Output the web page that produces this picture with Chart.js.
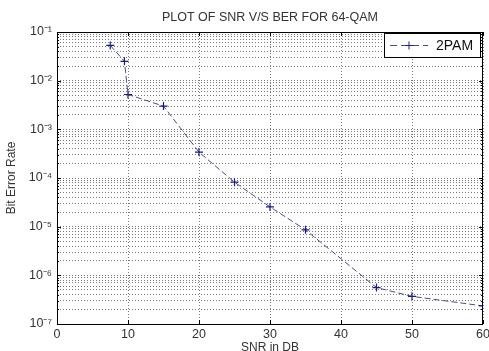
<!DOCTYPE html>
<html>
<head>
<meta charset="utf-8">
<script src="https://cdn.jsdelivr.net/npm/chart.js@4/dist/chart.umd.min.js"></script>
<style>
html,body{margin:0;padding:0;background:#fff;}
#wrap{width:489px;height:351px;}
</style>
</head>
<body>
<div id="wrap"><canvas id="c" width="489" height="351"></canvas></div>
<script>
const snrValues = [7.5, 9.5, 10, 15, 20, 25, 30, 35, 45, 50, 60];
const berValues = [0.053, 0.025, 0.0052, 0.003, 3.4e-4, 8.2e-5, 2.55e-5, 8.6e-6, 5.6e-7, 3.7e-7, 2.35e-7];
const xTicks = [0, 10, 20, 30, 40, 50, 60];
const yDecades = [-7, -6, -5, -4, -3, -2, -1];
const seriesLabel = '2PAM';
const titleText = 'PLOT OF SNR V/S BER FOR 64-QAM';
const xTitle = 'SNR in DB';
const yTitle = 'Bit Error Rate';

const sup = {'-':'\u207B','0':'\u2070','1':'\u00B9','2':'\u00B2','3':'\u00B3','4':'\u2074','5':'\u2075','6':'\u2076','7':'\u2077','8':'\u2078','9':'\u2079'};
function supStr(n){return String(n).split('').map(c=>sup[c]).join('');}

const yTickVals = [];
yDecades.forEach((e,i)=>{
  const base = Math.pow(10,e);
  if (i === yDecades.length-1) { yTickVals.push(base); return; }
  for (let s=1;s<=9;s++) yTickVals.push(parseFloat((s*base).toPrecision(3)));
});
function isDecade(v){const l=Math.log10(v);return Math.abs(l-Math.round(l))<1e-6;}

const LINE = '#44507e';
const MARK = '#1a1a90';
const FONT = 'Liberation Sans, Arial, sans-serif';
const TXT = '#333';

const framePlugin = {
  id:'frame',
  afterDraw(chart){
    const {ctx, chartArea:a, scales} = chart;
    ctx.save();
    // title
    ctx.fillStyle = TXT;
    ctx.font = '12.5px '+FONT;
    ctx.textAlign='center';
    ctx.textBaseline='middle';
    ctx.fillText(titleText, (a.left+a.right)/2, 18);
    ctx.strokeStyle = '#000';
    ctx.lineWidth = 1;
    ctx.setLineDash([]);
    ctx.strokeRect(a.left+0.5, a.top+0.5, a.right-a.left-1, a.bottom-a.top);
    // inner ticks
    ctx.beginPath();
    xTicks.forEach(v=>{
      const x = Math.round(scales.x.getPixelForValue(v))+0.5;
      ctx.moveTo(x,a.bottom); ctx.lineTo(x,a.bottom-4);
      ctx.moveTo(x,a.top); ctx.lineTo(x,a.top+4);
    });
    yTickVals.forEach(v=>{
      const y = Math.round(scales.y.getPixelForValue(v))+0.5;
      const len = isDecade(v)?4:2;
      ctx.moveTo(a.left,y); ctx.lineTo(a.left+len,y);
      ctx.moveTo(a.right,y); ctx.lineTo(a.right-len,y);
    });
    ctx.stroke();
    // legend
    const lx=384, ly=33, lw=96, lh=24;
    ctx.fillStyle='#fff';
    ctx.fillRect(lx,ly,lw,lh);
    ctx.strokeStyle='#000';
    ctx.strokeRect(lx+0.5,ly+0.5,lw,lh);
    const my = ly+lh/2+0.5;
    ctx.strokeStyle=LINE;
    ctx.setLineDash([7,4]);
    ctx.beginPath(); ctx.moveTo(lx+6,my); ctx.lineTo(lx+44,my); ctx.stroke();
    ctx.setLineDash([]);
    ctx.strokeStyle=MARK;
    ctx.beginPath();
    ctx.moveTo(lx+25-4,my); ctx.lineTo(lx+25+4,my);
    ctx.moveTo(lx+25,my-4); ctx.lineTo(lx+25,my+4);
    ctx.stroke();
    ctx.fillStyle='#111';
    ctx.font = '14px '+FONT;
    ctx.textBaseline='middle';
    ctx.textAlign='left';
    ctx.fillText(chart.data.datasets[0].label, lx+52, my+1);
    ctx.restore();
  }
};

new Chart(document.getElementById('c'), {
  type:'line',
  data:{
    datasets:[{
      label: seriesLabel,
      data: snrValues.map((x,i)=>({x:x,y:berValues[i]})),
      borderColor: LINE,
      borderWidth: 1,
      borderDash: [6,3],
      pointStyle: 'cross',
      pointRadius: 4,
      pointBorderColor: MARK,
      pointBorderWidth: 1.2,
      pointBackgroundColor: MARK,
      fill:false,
      tension:0
    }]
  },
  options:{
    responsive:false,
    animation:false,
    devicePixelRatio:1,
    layout:{padding:{left:0,right:6,top:32,bottom:0}},
    plugins:{
      legend:{display:false},
      tooltip:{enabled:false},
      title:{display:false}
    },
    scales:{
      x:{
        type:'linear', min:0, max:60,
        afterBuildTicks(s){ s.ticks = xTicks.map(v=>({value:v})); },
        afterFit(s){ s.height = 27; s.paddingLeft = 0; s.paddingRight = 0; },
        grid:{color:'#7a7a7a', lineWidth:1, drawTicks:false},
        border:{display:false, dash:[1,2]},
        ticks:{color:TXT, font:{family:FONT,size:12.5}, padding:3, maxRotation:0},
        title:{display:true,text:xTitle,color:TXT,font:{family:FONT,size:12},padding:{top:0,bottom:-4}}
      },
      y:{
        type:'logarithmic', min:1e-7, max:1e-1,
        afterBuildTicks(s){ s.ticks = yTickVals.map(v=>({value:v})); },
        afterFit(s){ s.width = 57; s.paddingTop = 0; s.paddingBottom = 0; },
        grid:{color:'#7a7a7a', lineWidth:1, drawTicks:false},
        border:{display:false, dash:[1,2]},
        ticks:{
          color:TXT, font:{family:FONT,size:12.5}, padding:5, autoSkip:false,
          callback(v){ return isDecade(v) ? '10'+supStr(Math.round(Math.log10(v))) : ''; }
        },
        title:{display:true,text:yTitle,color:TXT,font:{family:FONT,size:12},padding:{top:4,bottom:2}}
      }
    }
  },
  plugins:[framePlugin]
});
</script>
</body>
</html>
